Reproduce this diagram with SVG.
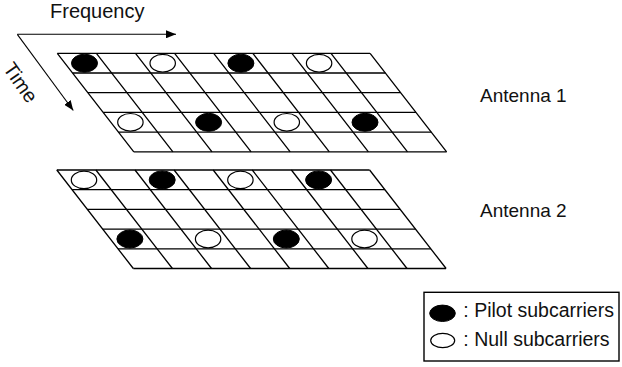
<svg xmlns="http://www.w3.org/2000/svg" xmlns:xlink="http://www.w3.org/1999/xlink" width="622" height="367" viewBox="0 0 622 367">
<style>
  .grid { fill: none; stroke: #000; stroke-width: 1.3; }
  .pilot { fill: #000; stroke: #000; stroke-width: 1; }
  .null { fill: #fff; stroke: #000; stroke-width: 1.2; }
  .lbl { font-family: "Liberation Sans", Arial, Helvetica, sans-serif; fill: #111; }
  .conn { stroke: #000; stroke-width: 1.1; fill: none; }
</style>
<defs>
  <marker id="arrow" viewBox="0 0 10 8" refX="10" refY="4" markerWidth="10" markerHeight="8" markerUnits="userSpaceOnUse" orient="auto">
    <path d="M0,0 L10,4 L0,8 Z" fill="#000"/>
  </marker>
  <g id="gridlines" class="grid">
    <path d="M57.3,53.3 H370.1 M72.6,73 H385.4 M87.9,92.7 H400.7 M103.2,112.4 H416 M118.5,132.1 H431.3 M133.8,151.8 H446.6"/>
    <path d="M57.3,53.3 L133.8,151.8 M96.4,53.3 L172.9,151.8 M135.5,53.3 L212,151.8 M174.6,53.3 L251.1,151.8 M213.7,53.3 L290.2,151.8 M252.8,53.3 L329.3,151.8 M291.9,53.3 L368.4,151.8 M331,53.3 L407.5,151.8 M370.1,53.3 L446.6,151.8"/>
  </g>
</defs>
<rect width="622" height="367" fill="#fff"/>

<g id="connectors">
  <line class="conn" x1="17.3" y1="34.3" x2="176" y2="34.3" marker-end="url(#arrow)"/>
  <line class="conn" x1="17.3" y1="34.3" x2="73.3" y2="110.5" marker-end="url(#arrow)"/>
</g>

<g id="label-frequency">
  <text class="lbl" x="50" y="17.5" font-size="20">Frequency</text>
</g>
<g id="label-time">
  <text class="lbl" font-size="20" text-anchor="middle" transform="translate(15,86.5) rotate(55)">Time</text>
</g>

<g id="antenna1">
  <use xlink:href="#gridlines"/>
  <ellipse class="pilot" cx="84.5" cy="63.2" rx="13" ry="9"/>
  <ellipse class="null" cx="162.7" cy="63.2" rx="12.7" ry="8.8"/>
  <ellipse class="pilot" cx="240.9" cy="63.2" rx="13" ry="9"/>
  <ellipse class="null" cx="319.1" cy="63.2" rx="12.7" ry="8.8"/>
  <ellipse class="null" cx="130.4" cy="122.3" rx="12.7" ry="8.8"/>
  <ellipse class="pilot" cx="208.6" cy="122.3" rx="13" ry="9"/>
  <ellipse class="null" cx="286.8" cy="122.3" rx="12.7" ry="8.8"/>
  <ellipse class="pilot" cx="365" cy="122.3" rx="13" ry="9"/>
  <text class="lbl" x="480" y="101.7" font-size="19">Antenna 1</text>
</g>

<g id="antenna2">
  <g transform="translate(-0.5,116.7)">
    <use xlink:href="#gridlines"/>
    <ellipse class="null" cx="84.5" cy="63.2" rx="12.7" ry="8.8"/>
    <ellipse class="pilot" cx="162.7" cy="63.2" rx="13" ry="9"/>
    <ellipse class="null" cx="240.9" cy="63.2" rx="12.7" ry="8.8"/>
    <ellipse class="pilot" cx="319.1" cy="63.2" rx="13" ry="9"/>
    <ellipse class="pilot" cx="130.4" cy="122.3" rx="13" ry="9"/>
    <ellipse class="null" cx="208.6" cy="122.3" rx="12.7" ry="8.8"/>
    <ellipse class="pilot" cx="286.8" cy="122.3" rx="13" ry="9"/>
    <ellipse class="null" cx="365" cy="122.3" rx="12.7" ry="8.8"/>
  </g>
  <text class="lbl" x="480" y="216.7" font-size="19">Antenna 2</text>
</g>

<g id="legend">
  <rect x="424" y="292.3" width="195" height="68.7" fill="#fff" stroke="#000" stroke-width="1.4"/>
  <ellipse class="pilot" cx="442.5" cy="313.3" rx="12.8" ry="8.2"/>
  <ellipse class="null" cx="442.7" cy="340.5" rx="12" ry="7.2"/>
  <text class="lbl" x="463.3" y="316.5" font-size="19.5">: Pilot subcarriers</text>
  <text class="lbl" x="463.3" y="346" font-size="19.5">: Null subcarriers</text>
</g>
</svg>
